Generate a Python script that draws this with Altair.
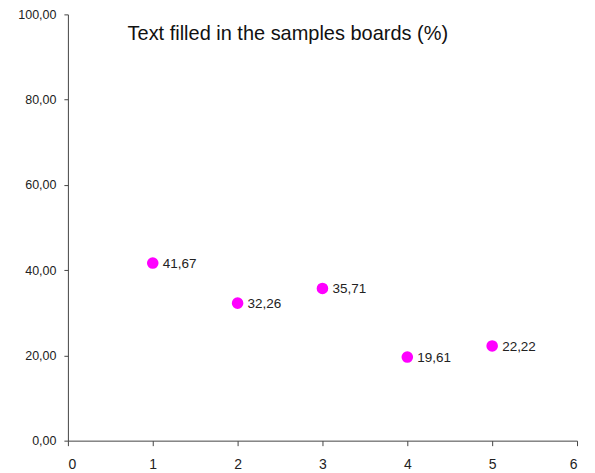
import altair as alt
import pandas as pd

samples = [1, 2, 3, 4, 5]
filled_pct = [41.67, 32.26, 35.71, 19.61, 22.22]

df = pd.DataFrame({"sample": samples, "pct": filled_pct})

FONT = "Liberation Sans"

x = alt.X("sample:Q", scale=alt.Scale(domain=[0, 6], nice=False),
          axis=alt.Axis(values=[0, 1, 2, 3, 4, 5, 6], title=None, grid=False,
                        format="d", labelFontSize=14, labelPadding=12,
                        tickSize=5, domainColor="#444", tickColor="#444",
                        labelColor="#222", labelFont=FONT))
y = alt.Y("pct:Q", scale=alt.Scale(domain=[0, 100], nice=False),
          axis=alt.Axis(values=[0, 20, 40, 60, 80, 100], title=None, grid=False,
                        labelExpr="replace(format(datum.value, '.2f'), '.', ',')",
                        labelFontSize=12.5, labelPadding=8, tickSize=4,
                        domainColor="#444", tickColor="#444",
                        labelColor="#222", labelFont=FONT))

base = alt.Chart(df).encode(x=x, y=y)

points = base.mark_circle(size=135, color="#ff00ff", opacity=1)
labels = base.transform_calculate(
    lbl="replace(format(datum.pct, '.2f'), '.', ',')"
).mark_text(align="left", baseline="middle", dx=10, dy=1, fontSize=13.5,
            font=FONT, color="#222").encode(text="lbl:N")

chart = (points + labels).properties(
    width=510, height=427,
    autosize=alt.AutoSizeParams(type="none"),
    padding={"left": 60, "top": 6, "right": 10, "bottom": 30},
    title=alt.TitleParams("Text filled in the samples boards (%)", anchor="start",
                          dx=110, dy=40, fontSize=20, fontWeight="normal",
                          font=FONT, color="#111"),
).configure_view(stroke=None)

chart.save("out.html", embed_options={"renderer": "svg", "actions": False})
